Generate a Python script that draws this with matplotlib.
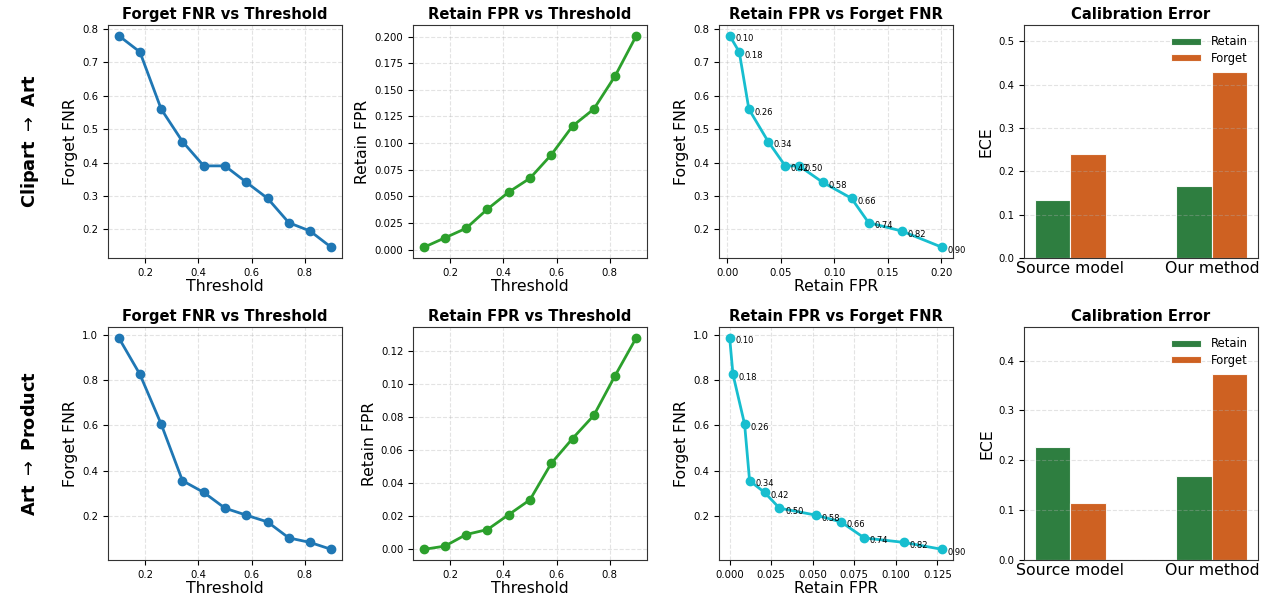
import numpy as np
import matplotlib
matplotlib.use('Agg')
import matplotlib.pyplot as plt

# thresholds used for both domain pairs
thresholds = [0.10, 0.18, 0.26, 0.34, 0.42, 0.50, 0.58, 0.66, 0.74, 0.82, 0.90]

row_names = [r'Clipart $\rightarrow$ Art', r'Art $\rightarrow$ Product']

# Clipart -> Art
forget_fnr_ca = [0.780, 0.731, 0.560, 0.463, 0.390, 0.390, 0.341, 0.293, 0.220, 0.195, 0.146]
retain_fpr_ca = [0.002, 0.011, 0.020, 0.038, 0.054, 0.067, 0.089, 0.116, 0.132, 0.163, 0.201]

# Art -> Product
forget_fnr_ap = [0.990, 0.827, 0.606, 0.355, 0.303, 0.233, 0.202, 0.172, 0.101, 0.081, 0.050]
retain_fpr_ap = [0.000, 0.002, 0.009, 0.012, 0.021, 0.030, 0.052, 0.067, 0.081, 0.105, 0.128]

methods = ['Source model', 'Our method']
ece_retain_ca = [0.133, 0.165]
ece_forget_ca = [0.240, 0.430]
ece_retain_ap = [0.227, 0.169]
ece_forget_ap = [0.114, 0.374]

rows = [
    (forget_fnr_ca, retain_fpr_ca, ece_retain_ca, ece_forget_ca),
    (forget_fnr_ap, retain_fpr_ap, ece_retain_ap, ece_forget_ap),
]

W, H = 1271, 602
fig = plt.figure(figsize=(W / 100, H / 100), dpi=100)

col_left = [108, 413, 719, 1024]
row_top = [25, 327]
ax_w, ax_h = 234, 233

TITLE_FS = 10.6
LABEL_FS = 11.3
TICK_FS = 7.3


def make_ax(r, c):
    l = col_left[c] / W
    b = 1 - (row_top[r] + ax_h) / H
    ax = fig.add_axes([l, b, ax_w / W, ax_h / H])
    for s in ax.spines.values():
        s.set_color('#333333')
    return ax


def style(ax, title, xlabel, ylabel):
    ax.set_title(title, fontsize=TITLE_FS, fontweight='bold', pad=4)
    ax.set_xlabel(xlabel, fontsize=LABEL_FS, labelpad=1)
    ax.set_ylabel(ylabel, fontsize=LABEL_FS, labelpad=3)
    ax.grid(True, ls='--', alpha=0.35)
    ax.tick_params(labelsize=TICK_FS)


for r, (fnr, fpr, ece_r, ece_f) in enumerate(rows):
    # Forget FNR vs threshold
    ax = make_ax(r, 0)
    ax.plot(thresholds, fnr, 'o-', color='#1f77b4', lw=2, ms=6)
    style(ax, 'Forget FNR vs Threshold', 'Threshold', 'Forget FNR')

    # Retain FPR vs threshold
    ax = make_ax(r, 1)
    ax.plot(thresholds, fpr, 'o-', color='#2ca02c', lw=2, ms=6)
    style(ax, 'Retain FPR vs Threshold', 'Threshold', 'Retain FPR')

    # tradeoff curve
    ax = make_ax(r, 2)
    ax.plot(fpr, fnr, 'o-', color='#17becf', lw=2, ms=6)
    for t, x, y in zip(thresholds, fpr, fnr):
        ax.annotate(f'{t:.2f}', (x, y), textcoords='offset points', xytext=(4, -4), fontsize=6)
    style(ax, 'Retain FPR vs Forget FNR', 'Retain FPR', 'Forget FNR')

    # calibration error bars
    ax = make_ax(r, 3)
    x = np.arange(len(methods))
    w = 0.25
    ax.bar(x - w / 2, ece_r, w, color='#1c7330', alpha=0.92, edgecolor='white', lw=0.8, label='Retain')
    ax.bar(x + w / 2, ece_f, w, color='#c9500a', alpha=0.9, edgecolor='white', lw=0.8, label='Forget')
    ax.set_xticks(x)
    ax.set_xticklabels(methods, fontsize=LABEL_FS)
    ax.set_ylim(0, max(ece_r + ece_f) * 1.25)
    ax.set_title('Calibration Error', fontsize=TITLE_FS, fontweight='bold', pad=4)
    ax.set_ylabel('ECE', fontsize=LABEL_FS, labelpad=3)
    ax.grid(True, axis='y', ls='--', alpha=0.35)
    ax.tick_params(axis='y', labelsize=TICK_FS)
    ax.tick_params(axis='x', length=0, pad=2)
    ax.legend(frameon=False, fontsize=8.3, loc='upper right', handlelength=2.6,
              handleheight=0.6, labelspacing=0.3)

    fig.text(30 / W, 1 - (row_top[r] + ax_h / 2) / H, row_names[r], rotation=90,
             fontsize=12.8, fontweight='bold', ha='center', va='center')

fig.savefig('out.png', dpi=100)
